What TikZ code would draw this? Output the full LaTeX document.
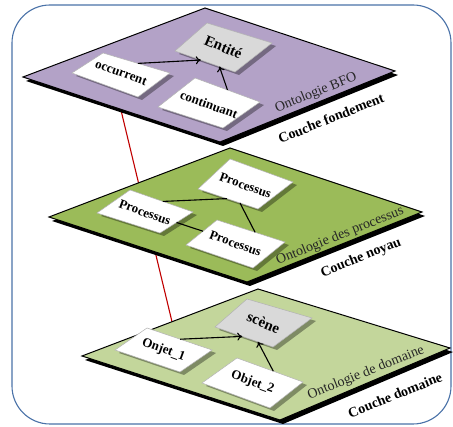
\documentclass[tikz,border=0pt]{standalone}
\usepackage{graphicx}
\usepackage{fontspec}
\setmainfont{Liberation Serif}
\usetikzlibrary{calc,arrows.meta}

\definecolor{bfo}{HTML}{B3A2C7}
\definecolor{noyau}{HTML}{9BBB59}
\definecolor{domaine}{HTML}{C3D69B}
\definecolor{frameblue}{HTML}{4A72A8}
\definecolor{concept}{HTML}{D9D9D9}
\definecolor{link}{HTML}{C00000}

\tikzset{
  frame/.style={draw=frameblue, line width=1.1pt, rounded corners=38pt},
  layer/.style={draw=black, line width=1pt, line join=miter},
  layershadow/.style={fill=black},
  boxline/.style={draw=gray!60, line width=0.5pt},
  boxshadow/.style={fill=black, opacity=0.35},
  boxtext/.style={font=\bfseries\fontsize{13}{15}\selectfont, inner sep=0pt,
    /utils/exec=\def\txtangle{-20}},
  bigtext/.style={font=\bfseries\fontsize{15}{17}\selectfont, inner sep=0pt,
    /utils/exec=\def\txtangle{-23}},
  ontolabel/.style={font=\fontsize{14}{16}\selectfont, text=black!85, inner sep=0pt},
  couchelabel/.style={font=\bfseries\fontsize{14}{16}\selectfont, inner sep=0pt},
  rel/.style={line width=1.1pt, -{To[length=5pt,width=8pt]}},
  tie/.style={line width=1.1pt},
  vertical/.style={draw=link, line width=1.1pt},
}

% a layer: name, left, top, right, bottom corners, fill colour
\newcommand\layerplane[6]{%
  \coordinate (#1-l) at (#2);
  \coordinate (#1-t) at (#3);
  \coordinate (#1-r) at (#4);
  \coordinate (#1-b) at (#5);
  \fill[layershadow] ([shift={(3,-4)}]#1-l) -- ([shift={(3,-4)}]#1-t)
     -- ([shift={(3,-4)}]#1-r) -- ([shift={(3,-4)}]#1-b) -- cycle;
  \filldraw[layer, fill=#6] (#1-l) -- (#1-t) -- (#1-r) -- (#1-b) -- cycle;
}

% a concept box: name, left, top, right, bottom corners, fill colour, text style, text
\newcommand\conceptbox[8]{%
  \coordinate (#1-l) at (#2);
  \coordinate (#1-t) at (#3);
  \coordinate (#1-r) at (#4);
  \coordinate (#1-b) at (#5);
  \fill[boxshadow] ([shift={(4,-3)}]#1-l) -- ([shift={(4,-3)}]#1-t)
     -- ([shift={(4,-3)}]#1-r) -- ([shift={(4,-3)}]#1-b) -- cycle;
  \filldraw[boxline, fill=#6] (#1-l) -- (#1-t) -- (#1-r) -- (#1-b) -- cycle;
  \node[#7] (#1) at ($(#1-l)!0.5!(#1-r)$) {\rotatebox{\txtangle}{#8}};
}

\begin{document}
\begin{tikzpicture}[x=1pt, y=1pt]
\useasboundingbox (0,0) rectangle (453,-427);

% outer frame
\draw[frame] (12,-5) rectangle (451,-424);

% link running through the three layers
\coordinate (linktop) at (119,-102);
\coordinate (linkbot) at (174,-330);
\draw[vertical] (linktop) -- (linkbot);

% ---- foundation layer
\layerplane{top}{23,-77}{205,-8}{395,-71}{220,-142}{bfo}
\conceptbox{ent}{175,-51}{207,-23}{272,-43}{235,-72}{concept}{bigtext}{Entité}
\conceptbox{occ}{72,-73}{103,-53}{170,-73}{138,-97}{white}{boxtext}{occurrent}
\conceptbox{con}{158,-107}{195,-78}{260,-102}{223,-128}{white}{boxtext}{continuant}
\draw[rel] ($(occ-t)!0.52!(occ-r)$) -- ($(ent-l)!0.43!(ent-b)$);
\draw[rel] ($(con-t)!0.5!(con-r)$) -- ($(ent-l)!0.74!(ent-b)$);
\node[ontolabel] (bfolbl) at (316,-93) {\rotatebox{22}{Ontologie BFO}};
\node[couchelabel] (fondlbl) at (331,-118) {\rotatebox{22}{Couche fondement}};

% ---- core layer
\layerplane{mid}{49,-217}{230,-148}{422,-212}{247,-282}{noyau}
\conceptbox{pl}{97,-213}{130,-190}{193,-212}{160,-233}{white}{boxtext}{Processus}
\conceptbox{ptr}{198,-189}{230,-159}{293,-182}{258,-209}{white}{boxtext}{Processus}
\conceptbox{pb}{186,-245}{217,-220}{285,-242}{253,-268}{white}{boxtext}{Processus}
\draw[tie] ($(pl-t)!0.52!(pl-r)$) -- ($(ptr-l)!0.48!(ptr-b)$);
\draw[tie] ($(ptr-l)!0.7!(ptr-b)$) -- ($(pb-t)!0.56!(pb-r)$);
\draw[tie] ($(pl-b)!0.5!(pl-r)$) -- ($(pb-l)!0.55!(pb-t)$);
\node[ontolabel] (proclbl) at (340,-236) {\rotatebox{22}{Ontologie des processus}};
\node[couchelabel] (noylbl) at (361,-258) {\rotatebox{22}{Couche noyau}};

% ---- domain layer
\layerplane{bot}{82,-356}{258,-289}{450,-348}{280,-420}{domaine}
\conceptbox{sce}{215,-327}{247,-299}{312,-318}{273,-347}{concept}{bigtext}{scène}
\conceptbox{ob1}{115,-350}{147,-328}{212,-350}{180,-372}{white}{boxtext}{Onjet\_1}
\conceptbox{ob2}{202,-383}{237,-358}{303,-382}{270,-408}{white}{boxtext}{Objet\_2}
\draw[rel] ($(ob1-t)!0.51!(ob1-r)$) -- ($(sce-l)!0.47!(sce-b)$);
\draw[rel] ($(ob2-t)!0.55!(ob2-r)$) -- ($(sce-l)!0.74!(sce-b)$);
\node[ontolabel] (domlbl) at (366,-373) {\rotatebox{22}{Ontologie de domaine}};
\node[couchelabel] (domcouche) at (395,-395) {\rotatebox{22}{Couche domaine}};
\end{tikzpicture}
\end{document}
